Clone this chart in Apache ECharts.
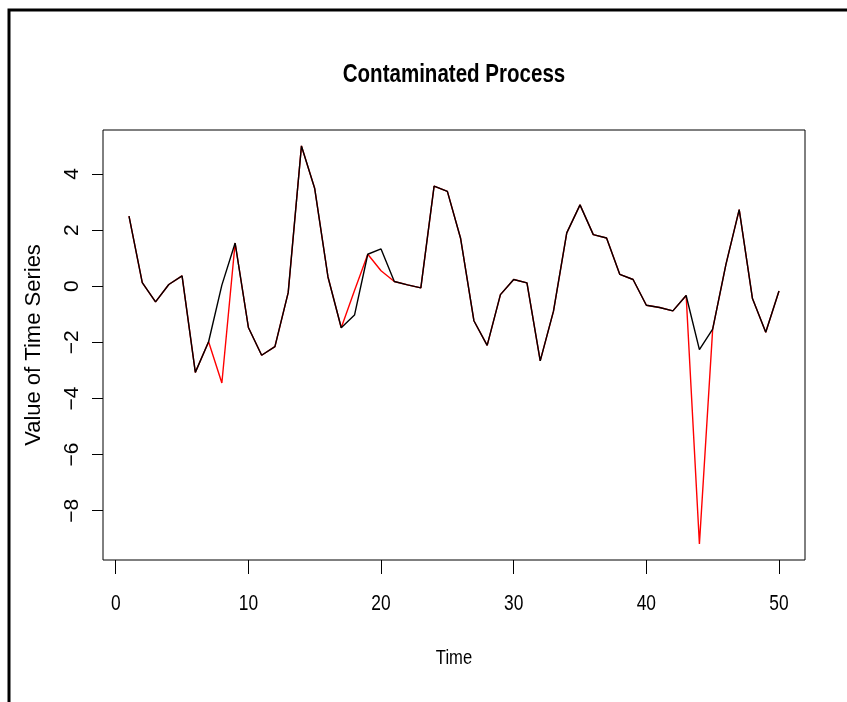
<!DOCTYPE html>
<html>
<head>
<meta charset="utf-8">
<script src="https://cdn.jsdelivr.net/npm/echarts@6/dist/echarts.min.js"></script>
<style>
  html, body { margin: 0; padding: 0; background: #ffffff; }
  #chart { width: 847px; height: 702px; }
</style>
</head>
<body>
<div id="chart"></div>
<script>
// Time index of the series
const timeIndex = [1, 2, 3, 4, 5, 6, 7, 8, 9, 10, 11, 12, 13, 14, 15, 16, 17, 18, 19, 20,
  21, 22, 23, 24, 25, 26, 27, 28, 29, 30, 31, 32, 33, 34, 35, 36, 37, 38, 39, 40,
  41, 42, 43, 44, 45, 46, 47, 48, 49, 50];

// Underlying (clean) process
const cleanSeries = [2.50, 0.13, -0.56, 0.06, 0.37, -3.07, -1.98, 0.04, 1.54, -1.47,
  -2.46, -2.15, -0.23, 5.00, 3.48, 0.33, -1.48, -1.03, 1.14, 1.33,
  0.17, 0.05, -0.06, 3.57, 3.38, 1.70, -1.23, -2.11, -0.30, 0.24,
  0.12, -2.66, -0.89, 1.90, 2.90, 1.84, 1.72, 0.42, 0.24, -0.68,
  -0.76, -0.88, -0.33, -2.26, -1.53, 0.78, 2.73, -0.44, -1.64, -0.17];

// Contaminated process (outliers at t = 8, 18, 20, 44)
const contaminatedSeries = [2.50, 0.13, -0.56, 0.06, 0.37, -3.07, -1.98, -3.45, 1.54, -1.47,
  -2.46, -2.15, -0.23, 5.00, 3.48, 0.33, -1.48, -0.15, 1.14, 0.55,
  0.17, 0.05, -0.06, 3.57, 3.38, 1.70, -1.23, -2.11, -0.30, 0.24,
  0.12, -2.66, -0.89, 1.90, 2.90, 1.84, 1.72, 0.42, 0.24, -0.68,
  -0.76, -0.88, -0.33, -9.19, -1.53, 0.78, 2.73, -0.44, -1.64, -0.17];

// Tick positions
const xTicks = [0, 10, 20, 30, 40, 50];
const yTicks = [-8, -6, -4, -2, 0, 2, 4];

const titleText = 'Contaminated Process';
const xAxisTitle = 'Time';
const yAxisTitle = 'Value of Time Series';

// Axis ranges padded by 4% of the data range on each side
function paddedRange(values) {
  const lo = Math.min.apply(null, values);
  const hi = Math.max.apply(null, values);
  const pad = (hi - lo) * 0.04;
  return [lo - pad, hi + pad];
}
const xRange = paddedRange(timeIndex);
const yRange = paddedRange(cleanSeries.concat(contaminatedSeries));

const sans = '"Liberation Sans", Arial, Helvetica, sans-serif';
const grid = { left: 103, right: 42, top: 130, bottom: 142 };
const W = 847, H = 702;
// Horizontal text is set in a condensed Helvetica style
const condense = 0.79;

const chart = echarts.init(document.getElementById('chart'), null, { renderer: 'canvas' });

chart.setOption({
  backgroundColor: '#ffffff',
  animation: false,
  grid: {
    left: grid.left, right: grid.right, top: grid.top, bottom: grid.bottom,
    show: true, borderColor: '#000000', borderWidth: 1, backgroundColor: 'transparent'
  },
  xAxis: {
    type: 'value',
    min: xRange[0],
    max: xRange[1],
    axisLine: { show: false, onZero: false },
    splitLine: { show: false },
    axisTick: { show: true, inside: false, length: 14, customValues: xTicks,
      lineStyle: { color: '#000000', width: 1 } },
    axisLabel: { show: false }
  },
  yAxis: {
    type: 'value',
    min: yRange[0],
    max: yRange[1],
    name: yAxisTitle,
    nameLocation: 'middle',
    nameGap: 58,
    nameRotate: 90,
    nameTextStyle: { fontFamily: sans, fontSize: 22, color: '#000000' },
    axisLine: { show: false, onZero: false },
    splitLine: { show: false },
    axisTick: { show: true, inside: false, length: 11, customValues: yTicks,
      lineStyle: { color: '#000000', width: 1 } },
    axisLabel: { show: true, customValues: yTicks, rotate: 90, margin: 20,
      fontFamily: sans, fontSize: 21, color: '#000000',
      formatter: function (v) { return String(v).replace('-', '\u2212'); } }
  },
  series: [
    {
      name: 'Contaminated',
      type: 'line',
      data: timeIndex.map(function (t, i) { return [t, contaminatedSeries[i]]; }),
      showSymbol: false,
      lineStyle: { color: '#ff0000', width: 1.4 },
      z: 2
    },
    {
      name: 'Clean',
      type: 'line',
      data: timeIndex.map(function (t, i) { return [t, cleanSeries[i]]; }),
      showSymbol: false,
      lineStyle: { color: '#000000', width: 1.4 },
      z: 3
    }
  ]
});

// Condensed horizontal texts: title, x tick labels and x axis title
function condensedText(text, x, y, size, weight) {
  return {
    type: 'text',
    x: x, y: y,
    scaleX: condense,
    silent: true,
    style: {
      text: text,
      fill: '#000000',
      font: (weight || 'normal') + ' ' + size + 'px ' + sans,
      textAlign: 'center',
      textVerticalAlign: 'middle'
    }
  };
}

const plotCenterX = grid.left + (W - grid.left - grid.right) / 2;
const plotBottom = H - grid.bottom;
const graphics = [{
  type: 'rect',
  shape: { x: 9, y: 10, width: 900, height: 800 },
  style: { fill: 'none', stroke: '#000000', lineWidth: 3 },
  silent: true
}];
graphics.push(condensedText(titleText, plotCenterX, 75, 26, 'bold'));
graphics.push(condensedText(xAxisTitle, plotCenterX, plotBottom + 98, 21));
xTicks.forEach(function (v) {
  const px = chart.convertToPixel({ xAxisIndex: 0 }, v);
  graphics.push(condensedText(String(v), px, plotBottom + 44, 22));
});
chart.setOption({ graphic: graphics });
</script>
</body>
</html>
